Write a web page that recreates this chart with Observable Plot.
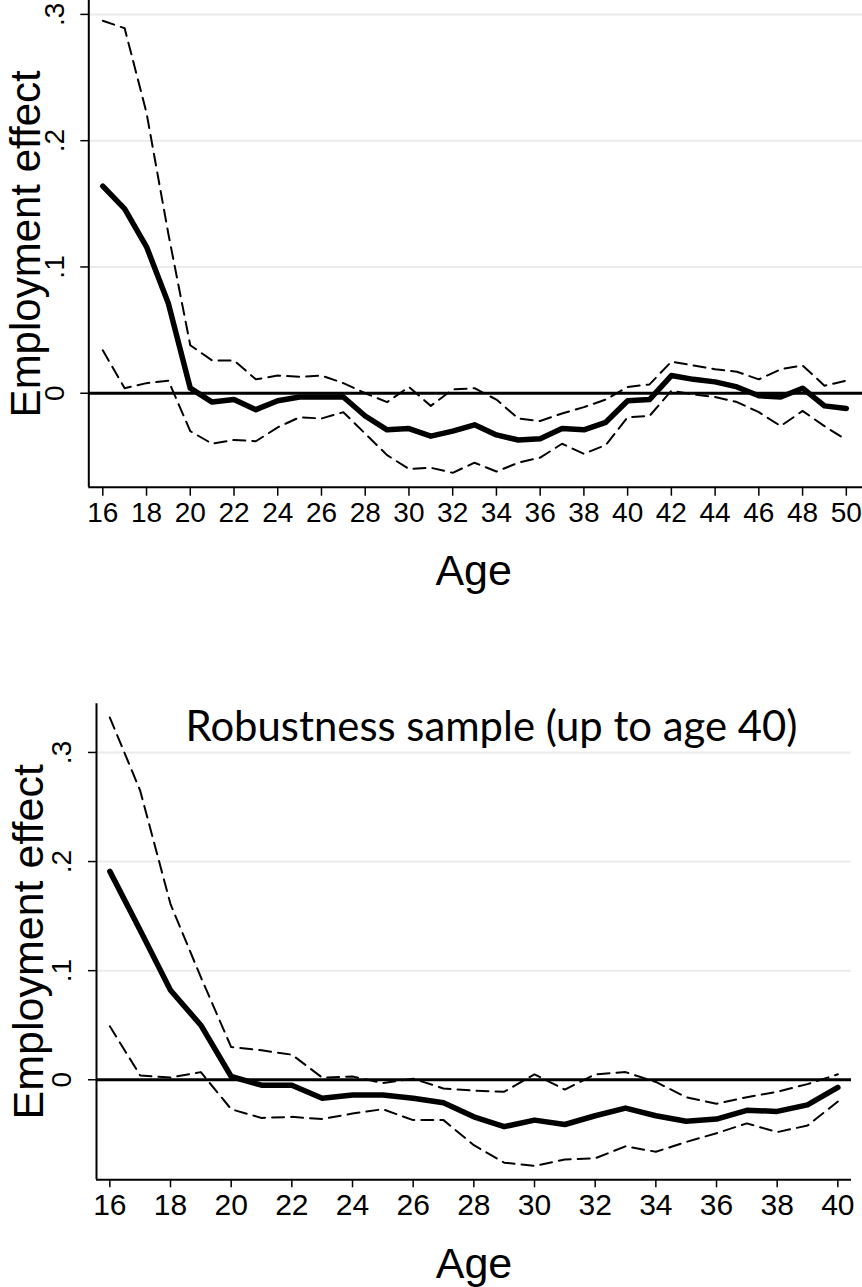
<!DOCTYPE html>
<html>
<head>
<meta charset="utf-8">
<script src="https://cdn.jsdelivr.net/npm/d3@7"></script>
<script src="https://cdn.jsdelivr.net/npm/@observablehq/plot@0.6"></script>
<style>
  body { margin: 0; background: #fff; }
  svg { display: block; }
</style>
</head>
<body>
<div id="top"></div>
<div id="bot"></div>
<script>
// ---------- Data: full sample (ages 16-50) ----------
const ages1 = [16,17,18,19,20,21,22,23,24,25,26,27,28,29,30,31,32,33,34,35,36,37,38,39,40,41,42,43,44,45,46,47,48,49,50];
const est1 = [0.164,0.146,0.116,0.071,0.004,-0.007,-0.005,-0.013,-0.006,-0.003,-0.003,-0.003,-0.018,-0.029,-0.028,-0.034,-0.030,-0.025,-0.033,-0.037,-0.036,-0.028,-0.029,-0.023,-0.006,-0.005,0.014,0.011,0.009,0.005,-0.002,-0.003,0.004,-0.010,-0.012];
const hi1 = [0.295,0.289,0.222,0.126,0.038,0.026,0.026,0.011,0.014,0.013,0.014,0.008,0.000,-0.007,0.005,-0.010,0.003,0.004,-0.005,-0.020,-0.022,-0.016,-0.011,-0.005,0.005,0.007,0.025,0.022,0.019,0.017,0.011,0.019,0.022,0.006,0.010];
const lo1 = [0.034,0.004,0.008,0.010,-0.030,-0.040,-0.037,-0.038,-0.027,-0.019,-0.020,-0.015,-0.032,-0.049,-0.060,-0.059,-0.063,-0.055,-0.062,-0.055,-0.051,-0.040,-0.048,-0.041,-0.019,-0.018,0.002,-0.001,-0.003,-0.007,-0.015,-0.026,-0.014,-0.026,-0.037];
const xTicks1 = [16,18,20,22,24,26,28,30,32,34,36,38,40,42,44,46,48,50];

// ---------- Data: robustness sample (ages 16-40) ----------
const ages2 = [16,17,18,19,20,21,22,23,24,25,26,27,28,29,30,31,32,33,34,35,36,37,38,39,40];
const est2 = [0.191,0.137,0.082,0.050,0.003,-0.005,-0.005,-0.017,-0.014,-0.014,-0.017,-0.021,-0.034,-0.043,-0.037,-0.041,-0.033,-0.026,-0.033,-0.038,-0.036,-0.028,-0.029,-0.023,-0.007];
const hi2 = [0.332,0.265,0.161,0.094,0.030,0.027,0.023,0.002,0.003,-0.003,0.001,-0.008,-0.010,-0.011,0.005,-0.009,0.005,0.007,-0.002,-0.016,-0.022,-0.016,-0.011,-0.004,0.005];
const lo2 = [0.049,0.004,0.002,0.007,-0.027,-0.035,-0.034,-0.036,-0.031,-0.027,-0.037,-0.037,-0.060,-0.076,-0.079,-0.073,-0.072,-0.061,-0.066,-0.057,-0.049,-0.040,-0.048,-0.042,-0.020];
const xTicks2 = [16,18,20,22,24,26,28,30,32,34,36,38,40];

// ---------- Shared labels ----------
const yTicks = [0, 0.1, 0.2, 0.3];
const yTickLabels = ["0", ".1", ".2", ".3"];
const gridVals = [0.1, 0.2, 0.3];
const yLabel = "Employment effect";
const xLabel = "Age";
const title2 = "Robustness sample (up to age 40)";

const FONT = "Liberation Sans, Arial, Helvetica, sans-serif";

function panel(o) {
  const rows = o.ages.map((a, i) => ({age: a, est: o.est[i], lo: o.lo[i], hi: o.hi[i]}));
  const marks = [
    Plot.ruleY(gridVals, {stroke: "#ebebeb", strokeWidth: 2}),
    Plot.ruleY([0], {stroke: "black", strokeWidth: 3}),
    Plot.line(rows, {x: "age", y: "hi", stroke: "black", strokeWidth: 2, strokeDasharray: "12,7"}),
    Plot.line(rows, {x: "age", y: "lo", stroke: "black", strokeWidth: 2, strokeDasharray: "12,7"}),
    Plot.line(rows, {x: "age", y: "est", stroke: "black", strokeWidth: 5.5, strokeLinejoin: "round", strokeLinecap: "round"}),
    Plot.ruleX([o.xDomain[0]], {stroke: "black", strokeWidth: 2}),
    Plot.ruleY([o.yDomain[0]], {stroke: "black", strokeWidth: 2}),
    Plot.axisX({ticks: o.xTicks, tickSize: o.tickSizeX, tickPadding: o.tickPadX, fontSize: o.xFont, fontFamily: FONT, label: null, tickFormat: d => String(d), strokeWidth: 1.5}),
    Plot.axisY({ticks: yTicks, tickSize: 8, tickFormat: () => "", label: null, strokeWidth: 1.5}),
    Plot.text(yTicks, {y: d => d, text: (d, i) => yTickLabels[i], frameAnchor: "left", dx: o.yTickDx, rotate: -90, textAnchor: "middle", lineAnchor: "bottom", fontSize: 28, fontFamily: FONT}),
    Plot.text([yLabel], {text: d => d, frameAnchor: "left", dx: o.yLabelDx, rotate: -90, textAnchor: "middle", lineAnchor: "bottom", fontSize: o.yLabelFont, fontFamily: FONT}),
    Plot.text([xLabel], {text: d => d, frameAnchor: "bottom", dx: o.xLabelDx, dy: o.xLabelDy, textAnchor: "middle", lineAnchor: "bottom", fontSize: 43, fontFamily: FONT})
  ];
  if (o.title) {
    marks.push(Plot.text([o.title], {text: d => d, frameAnchor: "top", dx: o.titleDx, dy: o.titleDy, textAnchor: "middle", lineAnchor: "bottom", fontSize: 35, fontFamily: "Lato, Open Sans, sans-serif"}));
  }
  return Plot.plot({
    width: 862,
    height: o.height,
    marginTop: o.mt, marginBottom: o.mb, marginLeft: o.ml, marginRight: o.mr,
    style: {fontFamily: FONT, fontSize: "28px", background: "white", color: "black", overflow: "visible"},
    x: {domain: o.xDomain},
    y: {domain: o.yDomain},
    marks
  });
}

const p1 = panel({
  ages: ages1, est: est1, lo: lo1, hi: hi1, xTicks: xTicks1,
  xDomain: [15.36, 50.74], yDomain: [-0.0744, 0.311],
  height: 600, mt: 0, mb: 113.3, ml: 88.3, mr: 0,
  tickSizeX: 9, tickPadX: 6, xFont: 28,
  yTickDx: -25, yLabelDx: -49, yLabelFont: 42, xLabelDx: -2, xLabelDy: 98
});
document.getElementById("top").appendChild(p1);

const p2 = panel({
  ages: ages2, est: est2, lo: lo2, hi: hi2, xTicks: xTicks2,
  xDomain: [15.56, 40.45], yDomain: [-0.0917, 0.3446],
  height: 687, mt: 103.3, mb: 107.7, ml: 96, mr: 11,
  tickSizeX: 8, tickPadX: 6, xFont: 30,
  yTickDx: -26, yLabelDx: -54, yLabelFont: 43, xLabelDx: 0, xLabelDy: 98,
  title: title2, titleDx: 17.5, titleDy: 37
});
document.getElementById("bot").appendChild(p2);

// fit title width to the reference (about 612px)
for (const t of p2.querySelectorAll("text")) {
  if (t.textContent === title2) {
    const w = t.getComputedTextLength();
    if (w > 0) {
      const fs = 35 * 612 / w;
      t.setAttribute("font-size", fs.toFixed(2));
      t.style.fontSize = fs.toFixed(2) + "px";
    }
  }
}
</script>
</body>
</html>
